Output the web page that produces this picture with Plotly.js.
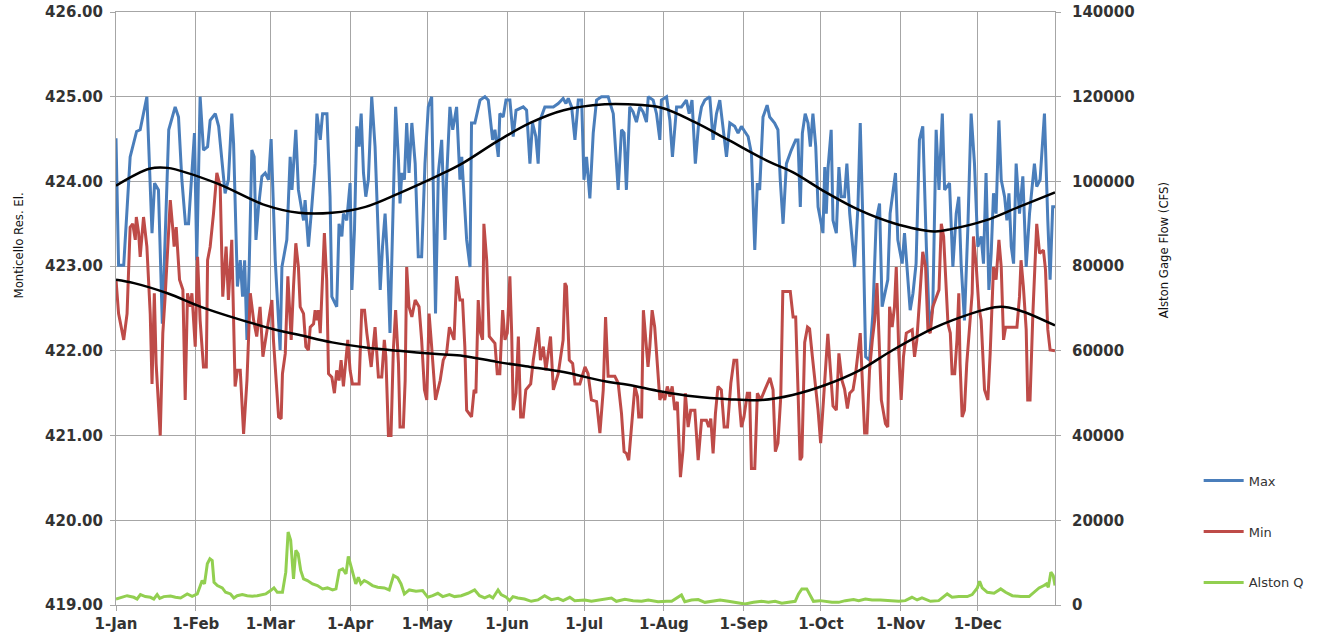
<!DOCTYPE html>
<html>
<head>
<meta charset="utf-8">
<script src="https://cdn.plot.ly/plotly-3.0.1.min.js"></script>
<style>
html,body{margin:0;padding:0;background:#fff;}
#chart{width:1325px;height:638px;}
</style>
</head>
<body>
<div id="chart"></div>
<script>
// Day-of-year offsets (0 = 1-Jan, leap year) and values
const maxDay = [0,1,3,5.5,8,9.4,12,14,15,16.5,18,19.5,20.5,23,24.3,25.6,27,28.2,30.5,31.4,32.7,34,35.6,36.6,38.6,39.9,42.4,43.7,45,45.7,47.2,48.3,49.2,50,50.9,51.8,52.8,53.7,54.4,55.4,56.7,58,59.3,60.3,61.9,63.8,64.5,66.4,67.7,68.4,69,69.9,70.9,72.9,73.5,74.8,76.1,77.4,78.1,79.4,80.3,82,83.2,83.9,85.8,86.7,87.8,88.4,89.7,91,91.7,92.7,93.6,94.5,95.3,96.2,97.1,98.1,99.4,100.7,102.7,103.6,104.6,105.6,106.5,107.8,108.7,109.8,110.4,111.1,112.1,113,113.9,115,116.3,117.5,118.8,120.1,121.4,122.7,124.2,125.3,126.6,127.9,128.5,129.8,130.9,132.4,133.7,134.4,135,136.3,137.6,138.2,139.5,141.5,143.4,144.7,146.4,147.3,148.6,149.2,150.5,151.6,153.1,154.4,155.5,158.3,159.6,160.9,161.9,163.2,164.1,164.8,166.7,170,171.9,173.8,174.9,175.8,177.1,178.4,179.7,181,181.9,182.9,184.2,185.5,186.8,188.7,191.3,193.3,195.2,196.5,197.5,198.4,199.7,201,202.3,203.6,204.9,206.2,206.9,208.8,210.1,211.4,212,214,215.3,216.3,217.9,219.8,221.7,222.8,223.9,225.2,226.5,227.6,228.9,230.8,232.1,233.4,234.7,236,237.3,238.6,240.5,241.8,243.1,244.4,245.7,247,248.3,249.3,250.2,251.5,253.1,254.1,256,257.3,258.2,259.3,260.6,262.5,264.2,265.1,266,266.8,267.9,269,269.9,270.9,272,272.9,274.8,275.5,276.1,276.8,278,278.7,280,281,281.9,283.2,284.1,285.2,287.1,288.4,289.3,290.3,291.4,292.9,294.2,295.5,296.8,297.8,300,300.9,303,303.9,305.6,306.5,308.7,309.8,311,312.3,313.6,315,316.2,317.5,318.8,319.9,321.2,322.1,324,325.3,326.6,327.6,328.5,329.8,331.1,332.4,333.7,335,336.3,337.2,338.2,339.3,340.2,341.1,342.1,343.2,344.1,345.4,346.3,347.1,348,348.9,349.9,351.2,352.5,353.8,355.1,357,357.9,359.2,360.9,362.2,363.1,364.1,365];
const maxVal = [424.51,423.01,423.01,424.29,424.59,424.61,425.0,423.39,423.98,423.9,422.32,423.7,424.61,424.88,424.76,424.02,423.5,423.5,424.57,423.07,425.0,424.37,424.41,424.72,424.8,424.65,423.86,424.02,424.8,424.45,422.76,423.07,422.64,423.07,422.13,423.03,424.37,424.29,423.31,423.7,424.06,424.1,424.02,424.5,423.07,422.01,422.99,423.31,424.29,423.9,424.21,424.61,423.9,423.54,423.78,423.23,423.7,424.21,424.8,424.49,424.8,424.8,423.82,422.64,422.52,423.5,423.35,423.62,423.54,423.98,422.72,423.43,424.65,424.41,424.8,424.1,423.82,424.02,425.0,424.41,422.72,423.23,423.62,423.03,422.21,424.02,424.88,424.25,423.74,424.1,424.02,424.69,424.1,424.69,424.21,423.11,423.11,424.21,424.88,425.0,422.44,424.1,424.49,423.31,424.02,424.88,424.61,424.88,424.02,424.29,424.02,423.31,422.99,424.69,424.69,424.96,425.0,424.96,424.49,424.61,424.29,424.8,424.76,424.96,424.96,424.53,424.84,424.88,424.84,424.21,424.69,424.53,424.21,424.72,424.88,424.88,424.92,424.98,424.92,424.98,424.88,424.49,424.96,424.96,424.02,424.29,423.8,424.57,424.96,425.0,425.0,424.8,423.9,424.61,424.57,423.9,424.88,424.82,424.7,424.88,424.82,424.7,425.0,424.96,424.8,424.49,424.96,425.0,424.72,424.29,424.88,424.88,424.96,424.8,424.96,424.21,424.69,424.88,424.96,425.0,424.49,424.8,424.96,424.61,424.29,424.69,424.65,424.57,424.65,424.59,424.53,424.33,423.19,423.98,423.9,424.76,424.9,424.76,424.69,424.61,424.02,423.5,424.21,424.37,424.49,424.49,423.7,424.57,424.8,424.69,424.41,424.8,424.41,423.7,423.39,424.17,423.62,424.17,424.61,423.54,423.39,424.17,423.82,423.82,424.21,423.62,422.99,423.7,424.69,423.54,421.93,421.89,422.44,423.54,423.74,422.52,422.84,423.62,424.1,423.31,423.03,423.39,422.48,422.68,423.03,424.49,424.65,423.23,422.28,422.52,424.61,423.9,424.8,423.9,423.98,422.99,423.62,423.82,423.03,422.36,423.43,424.8,424.21,423.23,423.35,423.03,424.1,422.72,423.15,423.86,423.62,424.72,424.02,423.82,423.54,423.86,423.23,423.03,424.21,423.62,424.06,422.99,423.62,424.21,423.94,424.02,424.8,423.54,422.84,423.7,423.7];

const minDay = [0,1,3,4.3,5.5,6.5,7.5,7.9,8.8,9.4,10.7,12,13.3,14,14.9,15.6,17.2,18.2,19.1,20.4,21.1,22.1,22.6,23.4,24.7,26,26.9,27.8,28.9,29.5,30.8,31.7,32.7,34,35.1,35.6,36.6,37.9,39.2,40.5,41.5,42.8,43.7,45,45.7,46.3,47.2,48.3,49.6,50.9,52.2,53.5,54.7,56,57.1,58,59.3,60.6,61.2,63.2,64.2,64.7,65.8,66.8,67.3,68.1,69,69.9,70.9,71.6,72.9,73.8,74.8,75.5,76.8,77.4,78.1,78.7,79.4,81,81.9,82.6,83.9,84.9,85.8,86.7,87.5,88.4,90.1,91,91.9,94.5,95.5,96.6,97.5,99.2,100.7,102,103.3,104.3,104.9,105.9,106.9,107.8,108.7,109.8,110.4,111.7,112.4,113,113.9,115,116.3,117.8,118.8,119.9,120.8,121.7,122.7,124.2,126,127.2,128.5,129.6,131.4,132.4,133.7,134.7,135.6,136.3,138.2,139.2,139.9,140.8,141.7,142.5,143,144.1,145.1,147.3,148.2,149.2,150.3,151.2,152.1,153.1,153.8,154.4,155.5,156.4,157.3,158.3,159.3,161.2,162.2,164.1,165,166.1,167.1,168.9,170,171.9,173.8,174.5,175.1,176.2,177.5,178.4,180.3,182.3,183.5,184.8,186.8,188.1,189.4,190.3,191.3,193.9,195.2,196.5,197.5,198.4,199.3,200.4,201.7,202.7,203.2,204.3,205,206.8,207.5,208.4,209.4,210.5,211.4,212.3,213.3,214.3,215.3,216.2,217.2,218.2,219.4,220.4,221.3,222.4,223.4,225,226.3,227.6,229.5,230.4,231.2,232.1,233,234,235.3,236.4,237.7,239,240.2,241.3,242.1,243.1,244.1,245.4,246.3,247,248.3,249.3,250.6,252.2,254.2,255.4,256.3,257.3,258.4,259.2,262.1,263.2,264.2,265.1,265.9,266.6,267.7,268.8,269.6,270.7,272.9,273.9,275.7,276.7,278.7,280,281,282.2,283.2,284.3,285.2,286.5,287.5,289.3,290.1,291,291.9,292.9,294,294.9,295.8,296.8,297.5,299.1,300,300.7,301.7,302.6,303.3,304.3,305.2,306.1,307.2,309.5,310.4,311.3,312.3,313.6,314.7,315.6,316.5,317.5,319.9,320.8,321.7,322.4,323.4,324.3,325,326,326.9,327.6,328.1,328.9,329.8,330.7,331.8,332.8,333.3,334.4,335.4,336.3,337.6,338.9,339.8,341.1,342.1,343.2,344.1,345,345.8,350.2,351.2,351.8,352.7,353.8,354.4,355.3,356.4,357.4,357.9,359,360.5,361.3,362.2,363.1,365];
const minVal = [422.84,422.44,422.13,422.44,423.46,423.5,423.31,423.58,423.39,423.11,423.58,423.23,422.44,421.61,422.68,421.85,421.0,422.21,422.64,423.43,423.78,423.43,423.23,423.46,422.84,422.72,421.42,422.68,422.52,422.68,422.05,423.11,422.36,421.81,421.81,423.07,423.23,423.62,424.1,423.94,422.64,423.23,422.6,423.31,422.44,421.58,421.77,421.77,421.02,421.65,422.68,422.36,422.17,422.52,421.93,422.13,422.36,422.6,422.13,421.22,421.2,421.73,421.97,422.88,422.64,422.13,422.76,423.27,422.99,422.52,422.44,422.05,422.01,422.28,422.32,422.48,422.36,422.48,422.21,423.39,422.84,421.73,421.69,421.5,421.77,421.65,421.89,421.58,422.13,421.77,421.61,421.61,422.48,422.48,422.21,421.81,422.28,421.69,421.69,422.13,421.93,421.0,421.0,422.01,422.48,421.85,421.1,421.1,421.65,422.99,422.52,422.4,422.6,422.52,422.13,421.54,421.42,422.44,422.05,421.42,421.65,421.89,421.97,422.28,422.13,422.88,422.6,422.6,422.05,421.3,421.22,421.54,421.5,422.6,422.21,422.13,423.5,423.07,422.17,422.09,421.73,421.73,422.48,422.13,422.21,422.88,422.21,421.3,421.5,422.17,421.22,421.22,421.54,421.61,421.89,422.28,421.89,422.05,421.77,422.17,421.54,421.73,422.13,422.8,422.76,421.89,421.85,421.61,421.61,421.81,421.73,421.42,421.4,421.03,421.54,422.4,421.7,421.7,421.62,421.26,420.81,420.79,420.71,421.07,421.58,421.46,421.22,421.22,422.48,421.81,422.05,422.48,422.28,421.81,421.42,421.5,421.42,421.58,421.46,421.58,421.3,421.4,420.51,420.83,421.5,421.1,421.3,421.3,420.71,421.18,421.18,421.1,421.2,420.79,421.26,421.58,421.54,421.1,421.1,421.62,421.89,421.89,421.46,421.1,421.22,421.5,421.5,420.61,420.61,421.5,421.42,421.54,421.68,421.54,420.81,420.91,421.46,422.7,422.7,422.4,422.4,421.54,420.71,420.75,422.1,422.28,422.26,421.93,421.3,420.91,421.77,422.2,421.35,421.3,421.97,421.65,421.55,421.32,421.5,421.54,421.73,422.21,421.65,421.03,421.03,421.77,422.13,422.36,422.8,422.05,421.42,421.14,421.1,422.52,422.28,422.52,422.99,421.97,421.42,421.93,422.21,422.25,421.93,422.13,422.6,423.17,422.99,422.25,422.21,422.52,422.72,423.5,423.35,422.84,422.32,422.21,421.73,421.73,422.13,422.68,421.85,421.22,421.3,421.85,422.25,422.68,423.35,422.99,422.52,422.36,421.54,421.42,421.97,422.99,422.84,423.31,422.99,422.13,422.28,422.28,422.64,423.07,422.76,422.25,421.42,421.42,422.44,423.23,423.5,423.15,423.19,422.96,422.25,422.01,422.0];

const flowDay = [0,1.7,4.3,6.9,8.2,9.5,11.4,13.4,14.7,16,17,18.6,21.2,23.1,25.1,27.7,29.6,31.6,33.5,34.4,35.5,36.5,37.4,38.1,39.4,41.3,42.6,44.5,45.8,47.1,49.1,51,53,54.9,56.9,58.2,60.1,61.4,62.7,64.7,66,66.9,67.9,69,69.9,70.8,71.8,72.9,74.4,76.4,78.3,80.3,82.2,84.2,85.5,86.8,88.1,89.4,90.3,91.3,92.3,93.2,94.2,95.2,96.5,97.8,99.7,101.7,104.3,106.2,107.9,109.5,110.8,112.1,114,116.6,119.2,121.2,123.1,125.1,127,129.6,131.6,134.2,136.8,139.4,141.3,143.3,145.2,146.5,148.5,149.7,151.7,153,154.3,156.2,158.8,161.4,164,166.6,169.2,171.8,173.8,176.4,178.3,180.9,182.2,184.8,187.4,190,192.6,194.5,197.8,201,204.3,206.9,210.7,214,216,219.8,221.1,223.7,226.3,228.9,231.5,234.8,238,241.9,244.5,247.8,251,253.6,256.2,258.8,262,264,265.3,266.6,268.5,269.8,271.1,273.7,275.7,278.3,280.9,283.5,286.7,288.7,291.3,293.9,297.1,300.4,304.3,306.8,309.4,311.4,313.3,316.6,319.8,323.1,325,327.6,330.9,332.8,334.8,335.7,336.7,338.7,341.3,343.9,345.8,348.4,351.7,354.9,356.9,358.8,360.7,361.7,362.4,363.4,364.3,365];
const flowVal = [1420,1660,2200,1820,1420,2450,1980,1820,1420,2450,1580,1980,2140,1820,1660,2610,2060,2610,5770,4980,9730,10900,10500,5380,4590,4030,3000,2610,1660,2200,2450,2200,2060,2200,2370,2610,3400,4030,3000,3000,7750,17240,15270,6170,12890,12100,8150,6170,5770,4980,4590,3800,4030,3560,3800,8150,8540,7360,11470,9330,7360,4980,6570,4980,5770,5380,4590,4190,4030,3560,6960,6410,4980,2610,3560,3240,3400,1820,2200,2770,1980,2450,1980,2200,2770,3560,2200,1660,2200,1660,3560,2450,1820,1030,1980,1660,1420,870,1190,2200,1270,1580,1030,1820,1030,1190,1190,870,1190,1420,1660,870,1340,1030,870,1190,790,870,870,2370,790,1190,1270,630,870,1190,870,400,240,630,870,630,870,400,630,870,2610,3800,3800,2450,870,1030,870,630,630,1030,1270,1030,1420,1190,1190,1030,870,1030,1820,1190,1660,870,1030,2610,1820,1980,1980,2450,4030,5620,4030,3000,2770,3800,3000,2200,1980,1980,3000,4030,4590,4980,4190,7750,6960,4590];

// Trend lines (smooth polynomial fits) read at intervals
const maxTrendDay = [0,13,20,39,58,71,84,97,110,126,135,148,161,174,190,199,212,225,238,254,263,276,289,302,318,325,338,351,365];
const maxTrendVal = [423.95,424.15,424.16,423.98,423.72,423.63,423.63,423.70,423.86,424.08,424.22,424.47,424.69,424.84,424.91,424.91,424.87,424.70,424.49,424.23,424.11,423.87,423.66,423.51,423.41,423.44,423.54,423.70,423.87];
const minTrendDay = [0,7,20,33,46,62,71,84,97,110,126,135,148,161,174,190,199,212,225,238,251,263,276,289,302,318,325,338,344,351,365];
const minTrendVal = [422.84,422.80,422.68,422.52,422.39,422.25,422.19,422.10,422.04,422.00,421.96,421.94,421.87,421.81,421.75,421.64,421.60,421.52,421.46,421.43,421.42,421.48,421.60,421.77,422.01,422.27,422.36,422.49,422.52,422.48,422.30];

const seriesNames = ['Max', 'Min', 'Alston Q'];
const leftAxisTitle = 'Monticello Res. El.';
const rightAxisTitle = 'Alston Gage Flow (CFS)';

function toDate(d) {
  const ms = Date.UTC(2008, 0, 1) + d * 86400000;
  return new Date(ms).toISOString().replace('T', ' ').slice(0, 19);
}
const dates = arr => arr.map(toDate);

const tickFont = {family: 'DejaVu Sans, Verdana, sans-serif', size: 15, color: '#333', weight: 'bold'};
const gridCol = '#a6a6a6';
const titleFont = {family: 'Liberation Sans Narrow, DejaVu Sans Condensed, Arial Narrow, sans-serif', size: 13, color: '#111'};

const traces = [
  {x: dates(maxDay), y: maxVal, name: seriesNames[0], type: 'scatter', mode: 'lines',
   line: {color: '#4A7EBB', width: 3}, legendgroup: 'g1', yaxis: 'y'},
  {x: dates(minDay), y: minVal, name: seriesNames[1], type: 'scatter', mode: 'lines',
   line: {color: '#BE4B48', width: 3}, legendgroup: 'g2', yaxis: 'y'},
  {x: dates(maxTrendDay), y: maxTrendVal, type: 'scatter', mode: 'lines', showlegend: false,
   line: {color: '#000', width: 2.5, shape: 'spline', smoothing: 1.0}, yaxis: 'y'},
  {x: dates(minTrendDay), y: minTrendVal, type: 'scatter', mode: 'lines', showlegend: false,
   line: {color: '#000', width: 2.5, shape: 'spline', smoothing: 1.0}, yaxis: 'y'},
  {x: dates(flowDay), y: flowVal, name: seriesNames[2], type: 'scatter', mode: 'lines',
   line: {color: '#92CF50', width: 3}, legendgroup: 'g3', yaxis: 'y2'}
];

const layout = {
  width: 1325, height: 638,
  margin: {l: 116, r: 270, t: 12, b: 33},
  paper_bgcolor: '#fff', plot_bgcolor: '#fff',
  showlegend: true,
  legend: {x: 1.153, xanchor: 'left', y: 0.235, yanchor: 'top', itemwidth: 40,
           font: {family: 'DejaVu Sans, Verdana, sans-serif', size: 13, color: '#333'},
           tracegroupgap: 31, bgcolor: 'rgba(0,0,0,0)'},
  xaxis: {type: 'date', range: [toDate(0), toDate(365)], tick0: toDate(0), dtick: 'M1',
          tickformat: '%-d-%b', tickfont: tickFont, showgrid: true, gridcolor: gridCol, gridwidth: 1,
          ticks: 'outside', ticklen: 5, tickcolor: gridCol, showline: true, mirror: true,
          linecolor: gridCol, linewidth: 1, zeroline: false, fixedrange: true},
  yaxis: {range: [419, 426], dtick: 1, tick0: 419, tickformat: '.2f', tickfont: tickFont,
          showgrid: true, gridcolor: gridCol, gridwidth: 1, ticks: 'outside', ticklen: 5,
          tickcolor: gridCol, showline: true, mirror: true, linecolor: gridCol, linewidth: 1,
          zeroline: false, ticklabelstandoff: 4},
  yaxis2: {range: [0, 140000], dtick: 20000, tick0: 0, tickformat: 'd', overlaying: 'y', side: 'right',
           tickfont: tickFont, showgrid: false, ticks: 'outside', ticklen: 5, tickcolor: gridCol,
           zeroline: false, showline: false, ticklabelstandoff: 8},
  annotations: [
    {text: leftAxisTitle, xref: 'paper', yref: 'paper', x: -0.104, y: 0.607, textangle: -90,
     showarrow: false, font: titleFont, xanchor: 'center', yanchor: 'middle'},
    {text: rightAxisTitle, xref: 'paper', yref: 'paper', x: 1.115, y: 0.598, textangle: -90,
     showarrow: false, font: titleFont, xanchor: 'center', yanchor: 'middle'}
  ]
};

Plotly.newPlot('chart', traces, layout, {staticPlot: true, displayModeBar: false});
</script>
</body>
</html>
